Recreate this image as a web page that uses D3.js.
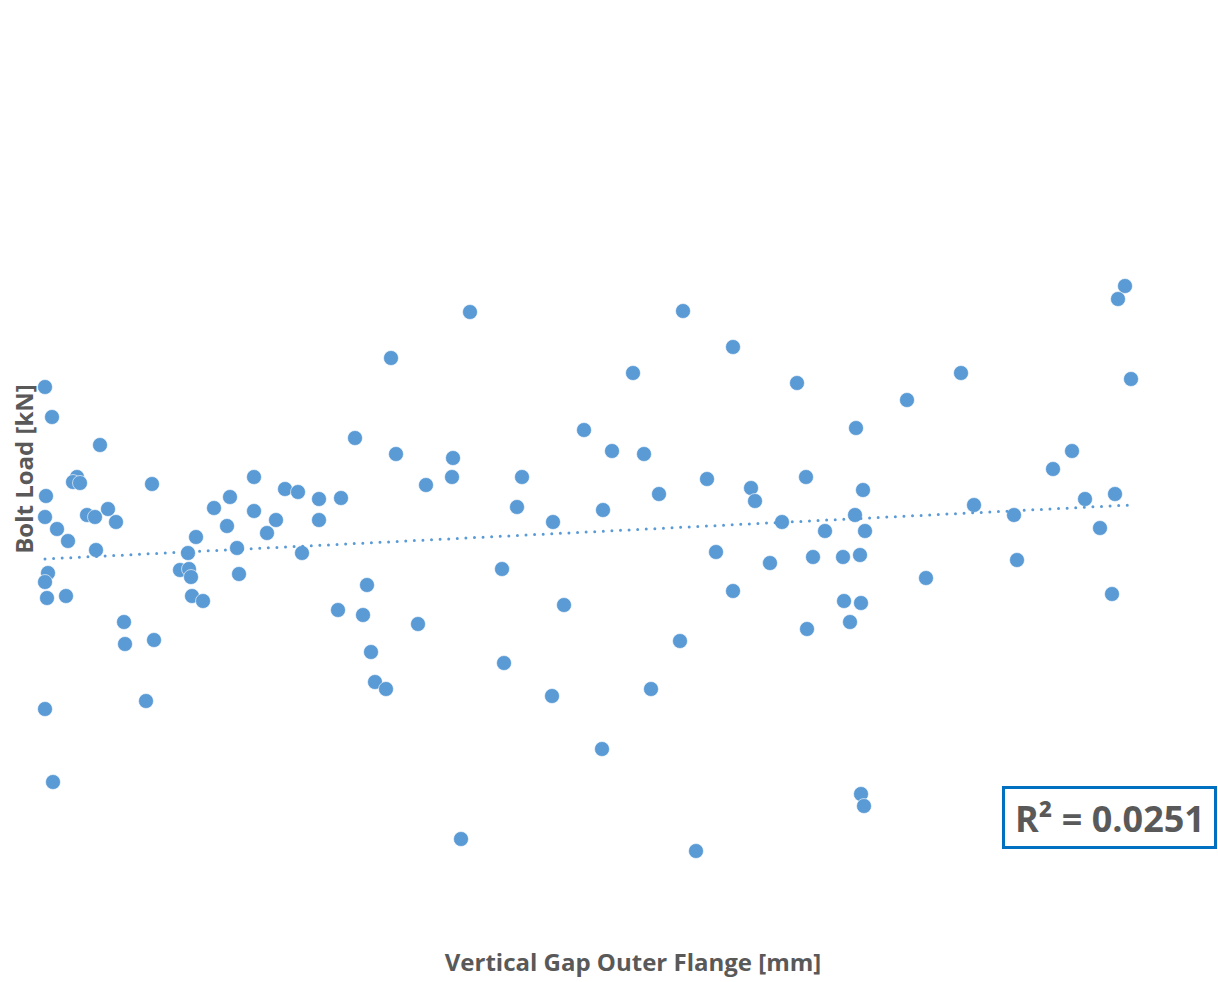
<!DOCTYPE html>
<html lang="en">
<head>
    <meta charset="UTF-8">
    <title>Bolt Load vs Vertical Gap</title>
    <script src="https://d3js.org/d3.v7.min.js"></script>
    <style>
        body { margin: 0; background: #fff; }
        text { font-family: "Open Sans", Lato, sans-serif; }
    </style>
</head>
<body>
    <svg id="chart" width="1218" height="982"></svg>

    <script>
        // vertical gap outer flange [mm]
        const gap = [
            0.00, 0.07, 0.55, 0.32, 0.28, 0.35, 1.07, 0.01, 0.00, 0.12,
            0.23, 0.42, 0.50, 0.63, 0.71, 0.51, 2.09, 1.85, 1.69, 2.09,
            1.82, 2.22, 2.31, 1.51, 1.92, 1.43, 1.35, 1.44, 1.46, 1.94,
            0.03, 0.00, 0.02, 0.21, 1.47, 1.58, 0.79, 0.80, 1.09, 0.00,
            1.01, 0.08, 3.46, 3.10, 3.51, 4.08, 4.07, 3.81, 2.40, 2.53,
            2.74, 2.96, 2.74, 2.57, 3.22, 2.93, 3.18, 3.73, 3.26, 3.30,
            3.41, 4.16, 4.57, 4.59, 4.25, 6.38, 6.88, 5.88, 5.39, 5.67,
            5.99, 4.77, 6.62, 6.14, 4.72, 5.58, 5.08, 6.71, 5.19, 6.88,
            6.35, 5.07, 6.06, 5.57, 6.51, 7.52, 8.62, 8.11, 7.06, 7.10,
            7.61, 8.18, 7.37, 8.10, 7.80, 8.20, 7.25, 7.68, 7.98, 8.15,
            8.81, 7.99, 8.16, 8.05, 7.62, 8.16, 8.19, 10.80, 10.73, 9.16,
            10.86, 10.27, 10.08, 10.40, 10.70, 9.29, 9.69, 10.55, 9.72, 10.67
        ];

        // bolt load [kN]
        const load = [
            246.5, 231.5, 217.5, 201.5, 199, 198.5, 198, 192, 181.5, 175.5,
            169.5, 182.5, 181.5, 185.5, 179, 165, 201.5, 191.5, 186, 184.5,
            177, 173.5, 180, 171.5, 166, 163.5, 155, 155.5, 151.5, 153,
            153.5, 149, 141, 142, 142, 139.5, 129, 118, 120, 85.5,
            89.5, 49, 261, 221, 213, 211, 201.5, 197.5, 195.5, 194,
            190.5, 191, 180, 163.5, 147.5, 135, 132.5, 128, 114, 99,
            95.5, 20.5, 155.5, 108.5, 284, 284.5, 266.5, 253.5, 225, 214.5,
            213, 201.5, 200.5, 193, 186.5, 185, 179, 164, 137.5, 144.5,
            119.5, 92, 95.5, 65.5, 14.5, 248.5, 240, 226, 196, 189.5,
            201.5, 195, 179, 182.5, 174.5, 174.5, 158.5, 161.5, 161.5, 162.5,
            151, 139.5, 138.5, 129, 125.5, 43, 37, 297, 290.5, 253.5,
            250.5, 214.5, 205.5, 190.5, 193, 187.5, 182.5, 176, 160, 143
        ];

        const xTitle = 'Vertical Gap Outer Flange [mm]';
        const yTitle = 'Bolt Load [kN]';
        const r2Label = 'R² = 0.0251';

        const svg = d3.select('#chart');
        const blue = '#5b9bd5';
        const grey = '#595959';

        const x = d3.scaleLinear().domain([0, 10.86]).range([45, 1131]);
        const y = d3.scaleLinear().domain([0, 300]).range([880, 280]);

        const points = gap.map((g, i) => ({ gap: g, load: load[i] }));

        // least squares trendline
        const mx = d3.mean(gap), my = d3.mean(load);
        const slope = d3.sum(points, d => (d.gap - mx) * (d.load - my)) /
            d3.sum(points, d => (d.gap - mx) ** 2);
        const icpt = my - slope * mx;
        const ext = d3.extent(gap);

        svg.append('g')
            .selectAll('circle')
            .data(points)
            .enter()
            .append('circle')
            .attr('cx', d => x(d.gap))
            .attr('cy', d => y(d.load))
            .attr('r', 7.5)
            .attr('fill', blue)
            .attr('stroke', '#fff')
            .attr('stroke-width', 0.6);

        svg.append('line')
            .attr('x1', x(ext[0]))
            .attr('y1', y(icpt + slope * ext[0]))
            .attr('x2', x(ext[1]))
            .attr('y2', y(icpt + slope * ext[1]))
            .attr('stroke', blue)
            .attr('stroke-width', 3)
            .attr('stroke-linecap', 'round')
            .attr('stroke-dasharray', '0 8.6');

        // axis titles
        svg.append('text')
            .attr('x', 633)
            .attr('y', 971)
            .attr('text-anchor', 'middle')
            .attr('font-size', 24)
            .attr('font-weight', 'bold')
            .attr('fill', grey)
            .text(xTitle);

        svg.append('text')
            .attr('transform', 'translate(33,469) rotate(-90)')
            .attr('text-anchor', 'middle')
            .attr('font-size', 24)
            .attr('font-weight', 'bold')
            .attr('fill', grey)
            .text(yTitle);

        // R² label box
        svg.append('rect')
            .attr('x', 1003.5)
            .attr('y', 787.5)
            .attr('width', 212)
            .attr('height', 60)
            .attr('fill', '#fff')
            .attr('stroke', '#0070c0')
            .attr('stroke-width', 3);

        svg.append('text')
            .attr('x', 1110)
            .attr('y', 832)
            .attr('text-anchor', 'middle')
            .attr('font-size', 36)
            .attr('font-weight', 'bold')
            .attr('fill', grey)
            .text(r2Label);
    </script>
</body>
</html>
